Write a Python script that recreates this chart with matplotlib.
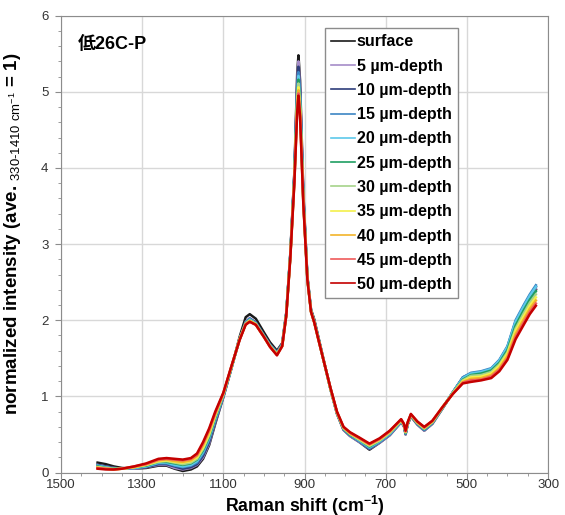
import matplotlib
matplotlib.use("Agg")
import matplotlib.pyplot as plt
from matplotlib.ticker import MultipleLocator

plt.rcParams['font.family'] = ['Liberation Sans', 'Noto Sans CJK JP', 'DejaVu Sans']
plt.rcParams['mathtext.fontset'] = 'custom'
plt.rcParams['mathtext.rm'] = 'Liberation Sans'
plt.rcParams['mathtext.bf'] = 'Liberation Sans:bold'

# Raman shift (cm-1), high to low
shift = [1410, 1390, 1370, 1350, 1320, 1290, 1260, 1240, 1220, 1200, 1180, 1165,
         1150, 1135, 1120, 1100, 1080, 1060, 1045, 1035, 1020, 1000, 985, 968,
         955, 945, 935, 925, 918, 915, 911, 903, 893, 884, 876, 866, 852, 836,
         820, 804, 788, 765, 740, 715, 690, 662, 655, 651, 646, 638, 622, 605,
         585, 560, 535, 510, 490, 465, 440, 420, 400, 380, 360, 345, 330]

surface = [0.13, 0.11, 0.08, 0.06,
           0.05, 0.06, 0.09, 0.09, 0.05, 0.02, 0.04, 0.08, 0.18, 0.36, 0.64, 0.99,
           1.37, 1.78, 2.04, 2.08, 2.02, 1.84, 1.71, 1.60, 1.70, 2.10, 2.88, 3.95, 5.25, 5.48,
           5.15, 3.68, 2.58, 2.14, 2.01, 1.78, 1.46, 1.09, 0.77, 0.56, 0.48, 0.40, 0.30,
           0.39, 0.49, 0.66, 0.61, 0.50, 0.63, 0.74, 0.63, 0.55, 0.64, 0.84, 1.05,
           1.24, 1.29, 1.31, 1.34, 1.45, 1.63, 1.95, 2.15, 2.28, 2.40]
depth_5 = [0.10, 0.08, 0.06, 0.05,
           0.05, 0.07, 0.10, 0.10, 0.06, 0.04, 0.06, 0.10, 0.20, 0.38, 0.66, 0.99,
           1.37, 1.76, 1.98, 2.03, 1.97, 1.80, 1.68, 1.58, 1.69, 2.09, 2.87, 3.93, 5.17, 5.40,
           5.08, 3.65, 2.57, 2.13, 1.99, 1.77, 1.45, 1.10, 0.77, 0.56, 0.48, 0.40, 0.31,
           0.39, 0.49, 0.66, 0.61, 0.50, 0.63, 0.74, 0.63, 0.55, 0.64, 0.84, 1.05,
           1.24, 1.29, 1.31, 1.35, 1.46, 1.64, 1.97, 2.17, 2.30, 2.42]
depth_10 = [0.10, 0.08, 0.06, 0.05,
            0.06, 0.07, 0.11, 0.11, 0.08, 0.05, 0.07, 0.11, 0.22, 0.40, 0.67, 1.00,
            1.38, 1.76, 1.97, 2.02, 1.97, 1.80, 1.68, 1.58, 1.68, 2.09, 2.86, 3.92, 5.10, 5.33,
            5.02, 3.63, 2.56, 2.13, 1.99, 1.77, 1.45, 1.10, 0.78, 0.57, 0.49, 0.41, 0.31,
            0.40, 0.50, 0.67, 0.61, 0.51, 0.63, 0.74, 0.64, 0.56, 0.65, 0.85, 1.05,
            1.25, 1.30, 1.32, 1.36, 1.47, 1.65, 1.98, 2.18, 2.32, 2.44]
depth_15 = [0.09, 0.07, 0.05, 0.05,
            0.06, 0.08, 0.12, 0.12, 0.09, 0.07, 0.09, 0.13, 0.25, 0.43, 0.69, 1.01,
            1.38, 1.75, 1.97, 2.02, 1.96, 1.80, 1.67, 1.57, 1.68, 2.08, 2.86, 3.90, 5.03, 5.26,
            4.96, 3.61, 2.56, 2.12, 1.98, 1.76, 1.45, 1.10, 0.78, 0.57, 0.49, 0.41, 0.32,
            0.40, 0.50, 0.67, 0.62, 0.51, 0.64, 0.75, 0.64, 0.56, 0.65, 0.85, 1.05,
            1.25, 1.31, 1.33, 1.37, 1.48, 1.66, 2.00, 2.20, 2.34, 2.46]
depth_20 = [0.09, 0.07, 0.05, 0.05,
            0.06, 0.08, 0.13, 0.13, 0.10, 0.08, 0.10, 0.15, 0.27, 0.45, 0.70, 1.01,
            1.38, 1.75, 1.96, 2.01, 1.96, 1.79, 1.67, 1.57, 1.67, 2.08, 2.85, 3.89, 4.98, 5.21,
            4.91, 3.60, 2.55, 2.12, 1.98, 1.76, 1.45, 1.10, 0.78, 0.58, 0.50, 0.42, 0.33,
            0.41, 0.51, 0.67, 0.62, 0.52, 0.64, 0.75, 0.65, 0.57, 0.66, 0.85, 1.05,
            1.24, 1.30, 1.32, 1.36, 1.47, 1.65, 1.98, 2.18, 2.32, 2.44]
depth_25 = [0.08, 0.06, 0.05, 0.05,
            0.07, 0.09, 0.14, 0.14, 0.12, 0.10, 0.12, 0.17, 0.29, 0.47, 0.72, 1.02,
            1.38, 1.75, 1.96, 2.00, 1.95, 1.79, 1.66, 1.56, 1.67, 2.08, 2.85, 3.88, 4.93, 5.16,
            4.86, 3.58, 2.55, 2.12, 1.98, 1.76, 1.45, 1.10, 0.78, 0.58, 0.50, 0.43, 0.34,
            0.42, 0.52, 0.68, 0.62, 0.52, 0.64, 0.75, 0.65, 0.57, 0.66, 0.85, 1.04,
            1.22, 1.28, 1.30, 1.34, 1.44, 1.61, 1.93, 2.13, 2.27, 2.38]
depth_30 = [0.07, 0.06, 0.05, 0.05,
            0.07, 0.10, 0.14, 0.15, 0.13, 0.11, 0.13, 0.18, 0.31, 0.49, 0.74, 1.03,
            1.39, 1.75, 1.96, 2.00, 1.95, 1.79, 1.66, 1.56, 1.67, 2.07, 2.84, 3.86, 4.89, 5.11,
            4.82, 3.57, 2.55, 2.12, 1.98, 1.76, 1.45, 1.10, 0.78, 0.58, 0.51, 0.43, 0.35,
            0.42, 0.52, 0.68, 0.62, 0.53, 0.64, 0.75, 0.65, 0.58, 0.66, 0.85, 1.04,
            1.21, 1.27, 1.28, 1.32, 1.42, 1.58, 1.89, 2.09, 2.23, 2.34]
depth_35 = [0.07, 0.05, 0.04, 0.05,
            0.07, 0.10, 0.15, 0.16, 0.14, 0.13, 0.15, 0.20, 0.33, 0.51, 0.75, 1.03,
            1.39, 1.75, 1.95, 1.99, 1.95, 1.78, 1.66, 1.55, 1.66, 2.07, 2.84, 3.85, 4.85, 5.06,
            4.78, 3.56, 2.54, 2.11, 1.97, 1.75, 1.45, 1.10, 0.79, 0.59, 0.51, 0.44, 0.36,
            0.43, 0.53, 0.69, 0.63, 0.53, 0.65, 0.76, 0.66, 0.58, 0.67, 0.86, 1.04,
            1.20, 1.25, 1.26, 1.30, 1.40, 1.56, 1.86, 2.05, 2.19, 2.30]
depth_40 = [0.06, 0.05, 0.04, 0.05,
            0.07, 0.11, 0.16, 0.17, 0.15, 0.14, 0.16, 0.22, 0.36, 0.54, 0.77, 1.04,
            1.39, 1.75, 1.95, 1.99, 1.94, 1.78, 1.65, 1.55, 1.66, 2.07, 2.83, 3.84, 4.81, 5.02,
            4.74, 3.55, 2.54, 2.11, 1.97, 1.75, 1.45, 1.10, 0.79, 0.59, 0.52, 0.45, 0.37,
            0.44, 0.54, 0.69, 0.63, 0.54, 0.65, 0.76, 0.66, 0.59, 0.67, 0.86, 1.03,
            1.19, 1.23, 1.24, 1.28, 1.37, 1.53, 1.82, 2.01, 2.15, 2.26]
depth_45 = [0.06, 0.05, 0.04, 0.05,
            0.08, 0.11, 0.17, 0.18, 0.17, 0.16, 0.18, 0.23, 0.38, 0.56, 0.78, 1.04,
            1.40, 1.74, 1.95, 1.98, 1.94, 1.78, 1.65, 1.54, 1.66, 2.06, 2.83, 3.82, 4.77, 4.98,
            4.70, 3.54, 2.54, 2.11, 1.97, 1.75, 1.45, 1.11, 0.79, 0.60, 0.52, 0.45, 0.37,
            0.44, 0.54, 0.70, 0.63, 0.54, 0.65, 0.76, 0.67, 0.59, 0.68, 0.86, 1.03,
            1.18, 1.21, 1.22, 1.26, 1.35, 1.50, 1.78, 1.97, 2.11, 2.22]
depth_50 = [0.05, 0.04, 0.04, 0.05,
            0.08, 0.12, 0.18, 0.19, 0.18, 0.17, 0.19, 0.25, 0.40, 0.58, 0.80, 1.05,
            1.40, 1.74, 1.94, 1.98, 1.94, 1.78, 1.65, 1.54, 1.66, 2.06, 2.82, 3.81, 4.74, 4.95,
            4.67, 3.53, 2.53, 2.11, 1.97, 1.75, 1.45, 1.11, 0.80, 0.60, 0.53, 0.46, 0.38,
            0.45, 0.55, 0.70, 0.64, 0.55, 0.66, 0.77, 0.67, 0.60, 0.68, 0.86, 1.03,
            1.17, 1.19, 1.21, 1.24, 1.33, 1.48, 1.75, 1.94, 2.08, 2.19]

labels = ['surface', '5 µm-depth', '10 µm-depth', '15 µm-depth', '20 µm-depth',
          '25 µm-depth', '30 µm-depth', '35 µm-depth', '40 µm-depth',
          '45 µm-depth', '50 µm-depth']
colors = ['#1a1a1a', '#a58cc8', '#2e3d7a', '#3c85c4', '#5cc8ea', '#1f9e62',
          '#a6d38a', '#f4f04a', '#f2b42a', '#ef5a5a', '#c40000']
spectra = [surface, depth_5, depth_10, depth_15, depth_20, depth_25,
           depth_30, depth_35, depth_40, depth_45, depth_50]
x_ticks = [1500, 1300, 1100, 900, 700, 500, 300]

fig = plt.figure(figsize=(5.65, 5.15), dpi=100)
ax = fig.add_axes([0.108, 0.0825, 0.862, 0.887])

for y, lab, c in zip(spectra, labels, colors):
    ax.plot(shift, y, color=c, lw=1.8, label=lab)

ax.set_xlim(1500, 300)
ax.set_ylim(0, 6)
ax.set_xticks(x_ticks)
ax.xaxis.set_minor_locator(MultipleLocator(50))
ax.yaxis.set_major_locator(MultipleLocator(1))
ax.yaxis.set_minor_locator(MultipleLocator(0.2))
ax.grid(True, which='major', color='#d8d8d8', lw=1.0)
ax.set_axisbelow(True)

for s in ax.spines.values():
    s.set_color('#8c8c8c')
ax.tick_params(which='major', direction='out', length=4, color='#8c8c8c',
               labelsize=9.5, labelcolor='#333333')
ax.tick_params(axis='x', which='major', pad=1)
ax.tick_params(axis='y', which='major', pad=5)
ax.tick_params(which='minor', direction='out', length=2.5, color='#8c8c8c')

ax.set_xlabel('Raman shift (cm$^{\\mathbf{-1}}$)', fontsize=12.8, fontweight='bold')
ax.xaxis.set_label_coords(0.5, -0.046)
ax.set_ylabel('normalized intensity (ave. $_{\\mathrm{330‐1410\\ cm^{-1}}}$ = 1)',
              fontsize=13.5, fontweight='bold')
ax.yaxis.set_label_coords(-0.078, 0.522)

ax.text(0.035, 0.936, '低26C-P', transform=ax.transAxes, fontsize=13,
        fontweight='bold', va='center', ha='left',
        family=['Liberation Sans', 'Noto Sans CJK JP'])

leg = ax.legend(loc='upper left', bbox_to_anchor=(0.542, 0.973), borderaxespad=0,
                fancybox=False, framealpha=1, edgecolor='#8c8c8c',
                prop={'family': 'Liberation Sans', 'weight': 'bold', 'size': 11.5},
                handlelength=1.45, handletextpad=0.15, labelspacing=0.58,
                borderpad=0.4)
leg.get_frame().set_linewidth(1.0)
for h in leg.get_lines():
    h.set_linewidth(1.2)

fig.savefig('out.png', dpi=100)
